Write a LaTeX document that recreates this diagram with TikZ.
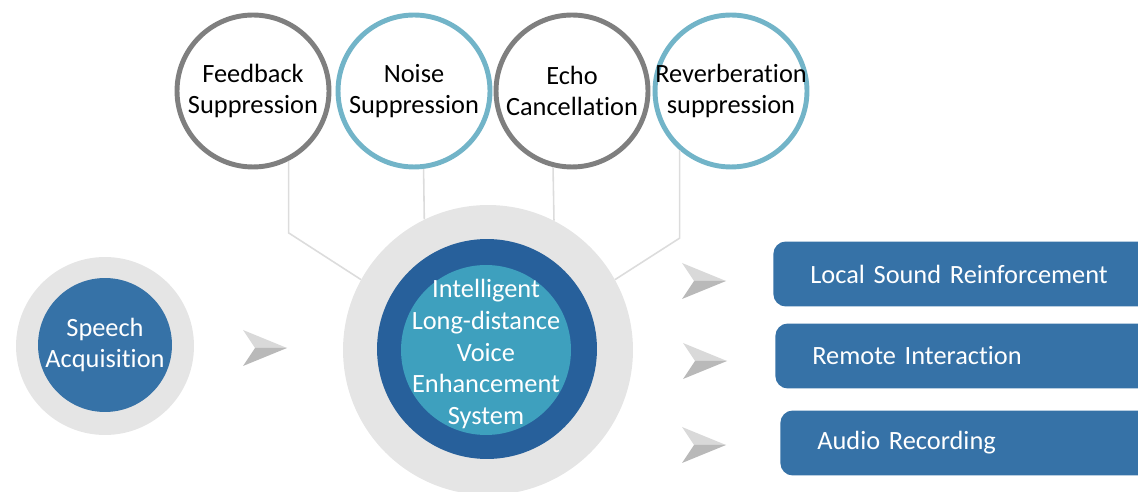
\documentclass[tikz,border=0pt]{standalone}
\usepackage{fontspec}
\setmainfont{Carlito}[Ligatures=NoCommon]
\usetikzlibrary{positioning}

\definecolor{ringgray}{HTML}{E5E5E5}
\definecolor{edgegray}{HTML}{7F7F7F}
\definecolor{edgeteal}{HTML}{72B4C8}
\definecolor{bandblue}{HTML}{27609B}
\definecolor{coreteal}{HTML}{3EA0BE}
\definecolor{boxblue}{HTML}{3672A7}
\definecolor{linkgray}{HTML}{DCDCDC}

\newcommand{\bodyfont}{\fontsize{15}{18}\selectfont}

\tikzset{
  topcircle/.style={circle, line width=2.8pt, fill=white, minimum size=3.04cm},
  ring/.style={circle, fill=ringgray, inner sep=0pt},
  link/.style={linkgray, line width=0.9pt},
  outbox/.style={fill=boxblue, rounded corners=0.25cm, minimum height=1.3cm,
    text width=6.5cm, inner xsep=0.74cm, align=left, text=white, font=\bodyfont},
  chevron/.pic={
    \fill[gray!30] (-22,-18) -- (22,0) -- (-10,0) -- cycle;
    \fill[gray!55] (-10,0) -- (22,0) -- (-22,18) -- cycle;
  }
}

\begin{document}
\begin{tikzpicture}[x=0.02cm, y=-0.02cm]
\clip[use as bounding box] (0,0) rectangle (1138,492);

% processing blocks
\node[topcircle, draw=edgegray, label={[font=\bodyfont, align=center]center:Feedback\\Suppression}] (fb) at (253,91) {};
\node[topcircle, draw=edgeteal, label={[font=\bodyfont, align=center]center:Noise\\Suppression}] (noise) at (414,91) {};
\node[topcircle, draw=edgegray, label={[font=\bodyfont, align=center]center:Echo\\Cancellation}] (echo) at (572,91) {};
\node[topcircle, draw=edgeteal, label={[font=\bodyfont, align=center]center:Reverberation\\suppression}] (reverb) at (731,91) {};

% central system
\node[ring, minimum size=5.8cm] (sysring) at (488,350) {};
\node[circle, fill=bandblue, inner sep=0pt, minimum size=4.4cm] (sysband) at (487,349) {};
\node[circle, fill=coreteal, inner sep=0pt, minimum size=3.4cm,
  label={[font=\bodyfont, align=center, text=white, yshift=-0.08cm]center:Intelligent\\Long-distance\\Voice\\Enhancement\\System}] (syscore) at (486,350) {};

\draw[link] (fb.-63) -- ++(0,72) -- (sysring.151);
\draw[link] (noise.-83) -- (sysring.116);
\draw[link] (echo.-104) -- (sysring.63);
\draw[link] (reverb.-131) -- ++(0,88) -- (sysring.29);

% input
\node[ring, minimum size=3.56cm] (speechring) at (105,346) {};
\node[circle, fill=boxblue, inner sep=0pt, minimum size=2.68cm,
  label={[font=\bodyfont, align=center, text=white]center:Speech\\Acquisition}] (speech) at (105,345) {};

% outputs
\node[outbox, anchor=west] (local) at (773,274) {Local Sound Reinforcement};
\node[outbox, anchor=west] (remote) at (775,356) {Remote Interaction};
\node[outbox, anchor=west] (record) at (780,443) {Audio Recording};

\pic at (265,348) {chevron};
\pic at (704,281) {chevron};
\pic at (705,361) {chevron};
\pic at (704,445) {chevron};

\end{tikzpicture}
\end{document}
